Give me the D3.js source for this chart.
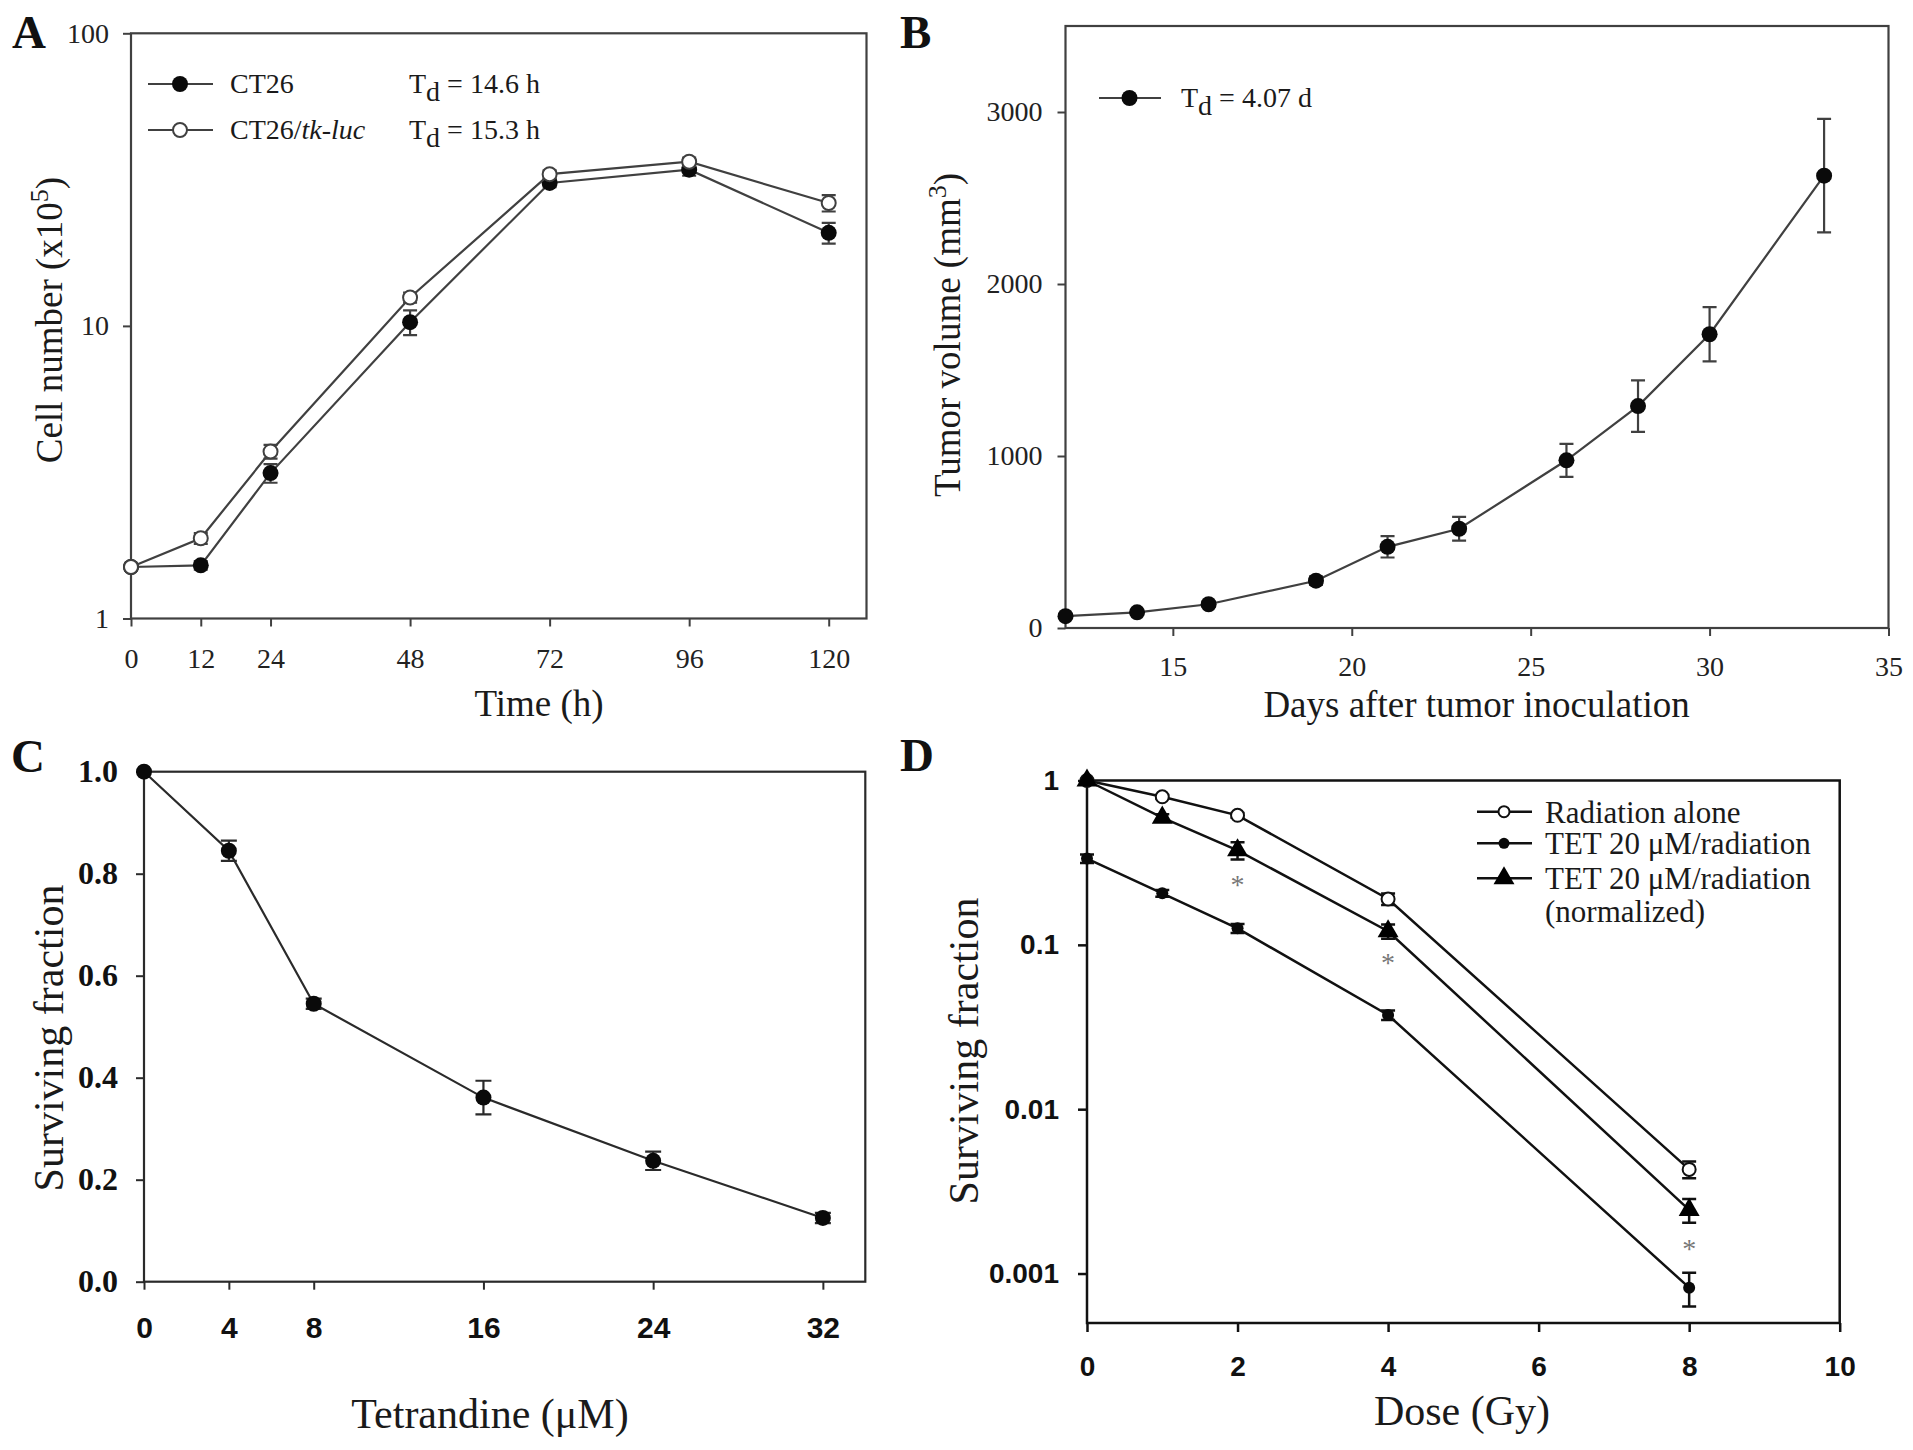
<!DOCTYPE html>
<html>
<head>
<meta charset="utf-8">
<script src="https://cdn.jsdelivr.net/npm/d3@7"></script>
<style>
  body { margin: 0; background: #fff; }
  svg text { font-family: "Liberation Serif", "Times New Roman", serif; }
</style>
</head>
<body>
<script>
// ---- Panel A: growth curves in vitro ----
const timeH = [0, 12, 24, 48, 72, 96, 120];
const ct26 = [1.50, 1.52, 3.14, 10.3, 30.8, 34.2, 20.8];
const ct26Err = [0.04, 0.05, 0.23, 1.0, 1.0, 1.6, 1.7];
const ct26Luc = [1.50, 1.88, 3.72, 12.5, 33.0, 36.4, 26.3];
const ct26LucErr = [0.03, 0.08, 0.2, 0.5, 1.0, 1.2, 1.7];
const timeTicks = [0, 12, 24, 48, 72, 96, 120];
const cellTicks = [1, 10, 100];
const tdA = ["14.6", "15.3"];

// ---- Panel B: tumour growth in vivo ----
const daysB = [12, 14, 16, 19, 21, 23, 26, 28, 30, 33.2];
const volB = [69, 91, 138, 275, 472, 577, 975, 1290, 1708, 2630];
const volErr = [10, 12, 15, 25, 62, 69, 96, 150, 158, 330];
const dayTicks = [15, 20, 25, 30, 35];
const volTicks = [0, 1000, 2000, 3000];
const tdB = "4.07";

// ---- Panel C: tetrandine dose response ----
const tetConc = [0, 4, 8, 16, 24, 32];
const tetSurv = [1.0, 0.845, 0.545, 0.361, 0.237, 0.125];
const tetSurvErr = [0, 0.02, 0.01, 0.033, 0.018, 0.01];
const concTicks = [0, 4, 8, 16, 24, 32];
const survTicks = [0, 0.2, 0.4, 0.6, 0.8, 1.0];

// ---- Panel D: radiation survival ----
const doseGy = [0, 1, 2, 4, 8];
const radAlone = [1, 0.796, 0.614, 0.19, 0.0043];
const radAloneErr = [0, 0.02, 0.02, 0.015, 0.0005];
const tetRad = [0.335, 0.206, 0.126, 0.0374, 0.00082];
const tetRadErr = [0.02, 0.01, 0.008, 0.0025, 0.00019];
const tetNorm = [1, 0.594, 0.376, 0.121, 0.00244];
const tetNormErr = [0, 0.03, 0.045, 0.012, 0.0004];
const starDose = [2, 4, 8];
const starLevel = [0.247, 0.083, 0.00152];
const doseTicks = [0, 2, 4, 6, 8, 10];
const logSurvTicks = [0.001, 0.01, 0.1, 1];
const legendD = ["Radiation alone", "TET 20 \u03bcM/radiation", "TET 20 \u03bcM/radiation"];

const W = 1913, H = 1450;
const SERIF = '"Liberation Serif", "Times New Roman", serif';
const SANS = '"Liberation Sans", Arial, sans-serif';

const svg = d3.select("body").append("svg")
    .attr("width", W)
    .attr("height", H)
    .style("background-color", "white");

function frame(b, color, sw) {
    svg.append("rect")
        .attr("x", b.x0).attr("y", b.y0)
        .attr("width", b.x1 - b.x0).attr("height", b.y1 - b.y0)
        .attr("fill", "none").attr("stroke", color).attr("stroke-width", sw);
}

function axes(b, x, y, o) {
    const ax = svg.append("g").attr("transform", `translate(0,${b.y1})`)
        .call(d3.axisBottom(x).tickValues(o.xTicks).tickFormat(o.xFmt || (d => d))
            .tickSize(o.tick).tickSizeOuter(0).tickPadding(o.xPad));
    const ay = svg.append("g").attr("transform", `translate(${b.x0},0)`)
        .call(d3.axisLeft(y).tickValues(o.yTicks).tickFormat(o.yFmt || (d => d))
            .tickSize(o.tick).tickSizeOuter(0).tickPadding(o.yPad));
    [ax, ay].forEach(a => {
        a.select(".domain").remove();
        a.selectAll(".tick line").attr("stroke", o.color).attr("stroke-width", o.sw);
    });
    ax.selectAll("text").style("font-family", o.xFont).style("font-size", o.xSize + "px")
        .style("font-weight", o.xWeight).attr("fill", o.text);
    ay.selectAll("text").style("font-family", o.yFont).style("font-size", o.ySize + "px")
        .style("font-weight", o.yWeight).attr("fill", o.text);
}

function series(x, y, xs, ys, errs, o) {
    const line = d3.line().x((d, i) => x(xs[i])).y(d => y(d));
    svg.append("path").datum(ys).attr("d", line)
        .attr("fill", "none").attr("stroke", o.color).attr("stroke-width", o.sw);
    const g = svg.append("g");
    ys.forEach((v, i) => {
        if (!errs[i]) return;
        const cx = x(xs[i]), hi = y(v + errs[i]), lo = y(v - errs[i]);
        g.append("path")
            .attr("d", `M${cx},${hi}V${lo}M${cx - o.cap},${hi}H${cx + o.cap}M${cx - o.cap},${lo}H${cx + o.cap}`)
            .attr("fill", "none").attr("stroke", o.color).attr("stroke-width", o.sw);
    });
    ys.forEach((v, i) => marker(g, x(xs[i]), y(v), o));
}

function marker(g, cx, cy, o) {
    if (o.type === "triangle") {
        g.append("path").attr("d", d3.symbol(d3.symbolTriangle, o.size)())
            .attr("transform", `translate(${cx},${cy})`).attr("fill", "#000");
    } else {
        g.append("circle").attr("cx", cx).attr("cy", cy).attr("r", o.r)
            .attr("fill", o.type === "open" ? "#fff" : "#0a0a0a")
            .attr("stroke", o.type === "open" ? o.color : "none")
            .attr("stroke-width", o.type === "open" ? 2 : 0);
    }
}

function label(txt, xx, yy, size, opts = {}) {
    const t = svg.append("text").attr("x", xx).attr("y", yy)
        .style("font-family", opts.font || SERIF)
        .style("font-size", size + "px")
        .style("font-weight", opts.weight || "normal")
        .attr("fill", opts.fill || "#1a1a1a")
        .attr("text-anchor", opts.anchor || "start");
    if (txt !== null) t.text(txt);
    return t;
}

function vlabel(cx, cy, size, fill) {
    return svg.append("text")
        .attr("transform", `translate(${cx},${cy}) rotate(-90)`)
        .attr("text-anchor", "middle")
        .style("font-family", SERIF).style("font-size", size + "px")
        .attr("fill", fill);
}

function tdLabel(xx, yy, val, unit, size) {
    const t = label(null, xx, yy, size);
    t.append("tspan").text("T");
    t.append("tspan").attr("dy", 8).text("d");
    t.append("tspan").attr("dy", -8).text(` = ${val} ${unit}`);
}

// ================= Panel A =================
{
    const b = { x0: 131, x1: 866.5, y0: 33.3, y1: 618.5 };
    const x = d3.scaleLinear().domain([0, 126.5]).range([b.x0, b.x1]);
    const y = d3.scaleLog().domain([1, 100]).range([b.y1, b.y0]);
    const col = "#404040";
    axes(b, x, y, {
        xTicks: timeTicks, yTicks: cellTicks, tick: 8, xPad: 22, yPad: 14,
        color: col, sw: 2, text: "#222",
        xFont: SERIF, xSize: 28, xWeight: "normal",
        yFont: SERIF, ySize: 28, yWeight: "normal"
    });
    frame(b, col, 2.2);
    series(x, y, timeH, ct26, ct26Err, { color: col, sw: 2.2, cap: 7, type: "filled", r: 8 });
    series(x, y, timeH, ct26Luc, ct26LucErr, { color: col, sw: 2.2, cap: 7, type: "open", r: 7 });

    // legend
    const rows = [84, 130];
    const types = ["filled", "open"];
    rows.forEach((ry, i) => {
        svg.append("line").attr("x1", 148).attr("x2", 213).attr("y1", ry).attr("y2", ry)
            .attr("stroke", col).attr("stroke-width", 2.2);
        marker(svg, 180, ry, { type: types[i], r: types[i] === "open" ? 7 : 8, color: col });
        tdLabel(409, ry + 9, tdA[i], "h", 28);
    });
    label("CT26", 230, rows[0] + 9, 28);
    const l2 = label("CT26/", 230, rows[1] + 9, 28);
    l2.append("tspan").style("font-style", "italic").text("tk-luc");

    label("Time (h)", 539, 716, 37, { anchor: "middle" });
    const yt = vlabel(61.7, 320, 37, "#1a1a1a");
    yt.append("tspan").text("Cell number (x10");
    yt.append("tspan").attr("dy", -14).style("font-size", "26px").text("5");
    yt.append("tspan").attr("dy", 14).text(")");
    label("A", 12, 48, 47, { weight: "bold", fill: "#111" });
}

// ================= Panel B =================
{
    const b = { x0: 1065.5, x1: 1888.5, y0: 26, y1: 628 };
    const x = d3.scaleLinear().domain([12, 35]).range([b.x0, b.x1]);
    const y = d3.scaleLinear().domain([0, 3500]).range([b.y1, b.y0]);
    const col = "#404040";
    axes(b, x, y, {
        xTicks: dayTicks, yTicks: volTicks, tick: 8, xPad: 20, yPad: 15,
        color: col, sw: 2, text: "#222",
        xFont: SERIF, xSize: 28, xWeight: "normal",
        yFont: SERIF, ySize: 28, yWeight: "normal"
    });
    frame(b, col, 2.2);
    series(x, y, daysB, volB, volErr, { color: col, sw: 2.2, cap: 7, type: "filled", r: 8 });

    svg.append("line").attr("x1", 1099).attr("x2", 1161).attr("y1", 98).attr("y2", 98)
        .attr("stroke", col).attr("stroke-width", 2.2);
    marker(svg, 1129.5, 98, { type: "filled", r: 8 });
    tdLabel(1181, 107, tdB, "d", 28);

    label("Days after tumor inoculation", 1476.6, 717, 37, { anchor: "middle" });
    const yt = vlabel(960, 335, 37, "#1a1a1a");
    yt.append("tspan").text("Tumor volume (mm");
    yt.append("tspan").attr("dy", -14).style("font-size", "26px").text("3");
    yt.append("tspan").attr("dy", 14).text(")");
    label("B", 900, 48, 47, { weight: "bold", fill: "#111" });
}

// ================= Panel C =================
{
    const b = { x0: 144, x1: 865.3, y0: 771.7, y1: 1281.7 };
    const x = d3.scaleLinear().domain([0, 34]).range([b.x0, b.x1]);
    const y = d3.scaleLinear().domain([0, 1]).range([b.y1, b.y0]);
    const col = "#2a2a2a";
    axes(b, x, y, {
        xTicks: concTicks, yTicks: survTicks, yFmt: d3.format(".1f"), tick: 8, xPad: 27, yPad: 18,
        color: col, sw: 2, text: "#111",
        xFont: SANS, xSize: 30, xWeight: "bold",
        yFont: SERIF, ySize: 32, yWeight: "bold"
    });
    frame(b, col, 2.2);
    series(x, y, tetConc, tetSurv, tetSurvErr, { color: col, sw: 2.2, cap: 8, type: "filled", r: 8 });

    label("Tetrandine (\u03bcM)", 490, 1428, 42, { anchor: "middle" });
    vlabel(63, 1038, 42, "#1a1a1a").text("Surviving fraction");
    label("C", 11, 772, 47, { weight: "bold", fill: "#111" });
}

// ================= Panel D =================
{
    const b = { x0: 1087, x1: 1839.7, y0: 780.5, y1: 1323 };
    const x = d3.scaleLinear().domain([0, 10]).range([b.x0, b.x1]);
    const y = d3.scaleLog().domain([0.0005, 1]).range([b.y1, b.y0]);
    const col = "#111";
    axes(b, x, y, {
        xTicks: doseTicks, yTicks: logSurvTicks, yFmt: d => String(d), tick: 9, xPad: 24, yPad: 19,
        color: col, sw: 2.5, text: "#111",
        xFont: SANS, xSize: 28, xWeight: "bold",
        yFont: SANS, ySize: 28, yWeight: "bold"
    });
    frame(b, col, 2.5);
    series(x, y, doseGy, radAlone, radAloneErr, { color: col, sw: 2.5, cap: 7, type: "open", r: 6.5 });
    series(x, y, doseGy, tetRad, tetRadErr, { color: col, sw: 2.5, cap: 7, type: "filled", r: 6 });
    series(x, y, doseGy, tetNorm, tetNormErr, { color: col, sw: 2.5, cap: 7, type: "triangle", size: 190 });

    starDose.forEach((d, i) => {
        label("*", x(d), y(starLevel[i]) + 14, 28, { anchor: "middle", fill: "#777" });
    });

    // legend
    const rows = [811.7, 843.3, 878.3];
    const types = [
        { type: "open", r: 5.5, color: col },
        { type: "filled", r: 5.5 },
        { type: "triangle", size: 190 }
    ];
    rows.forEach((ry, i) => {
        svg.append("line").attr("x1", 1477).attr("x2", 1532).attr("y1", ry).attr("y2", ry)
            .attr("stroke", col).attr("stroke-width", 2.5);
        marker(svg, 1504, ry, types[i]);
        label(legendD[i], 1545, ry + 11, 31);
    });
    label("(normalized)", 1545, 922, 31);

    label("Dose (Gy)", 1462, 1425, 42, { anchor: "middle" });
    vlabel(978, 1051, 42, "#1a1a1a").text("Surviving fraction");
    label("D", 900, 771, 47, { weight: "bold", fill: "#111" });
}
</script>
</body>
</html>
